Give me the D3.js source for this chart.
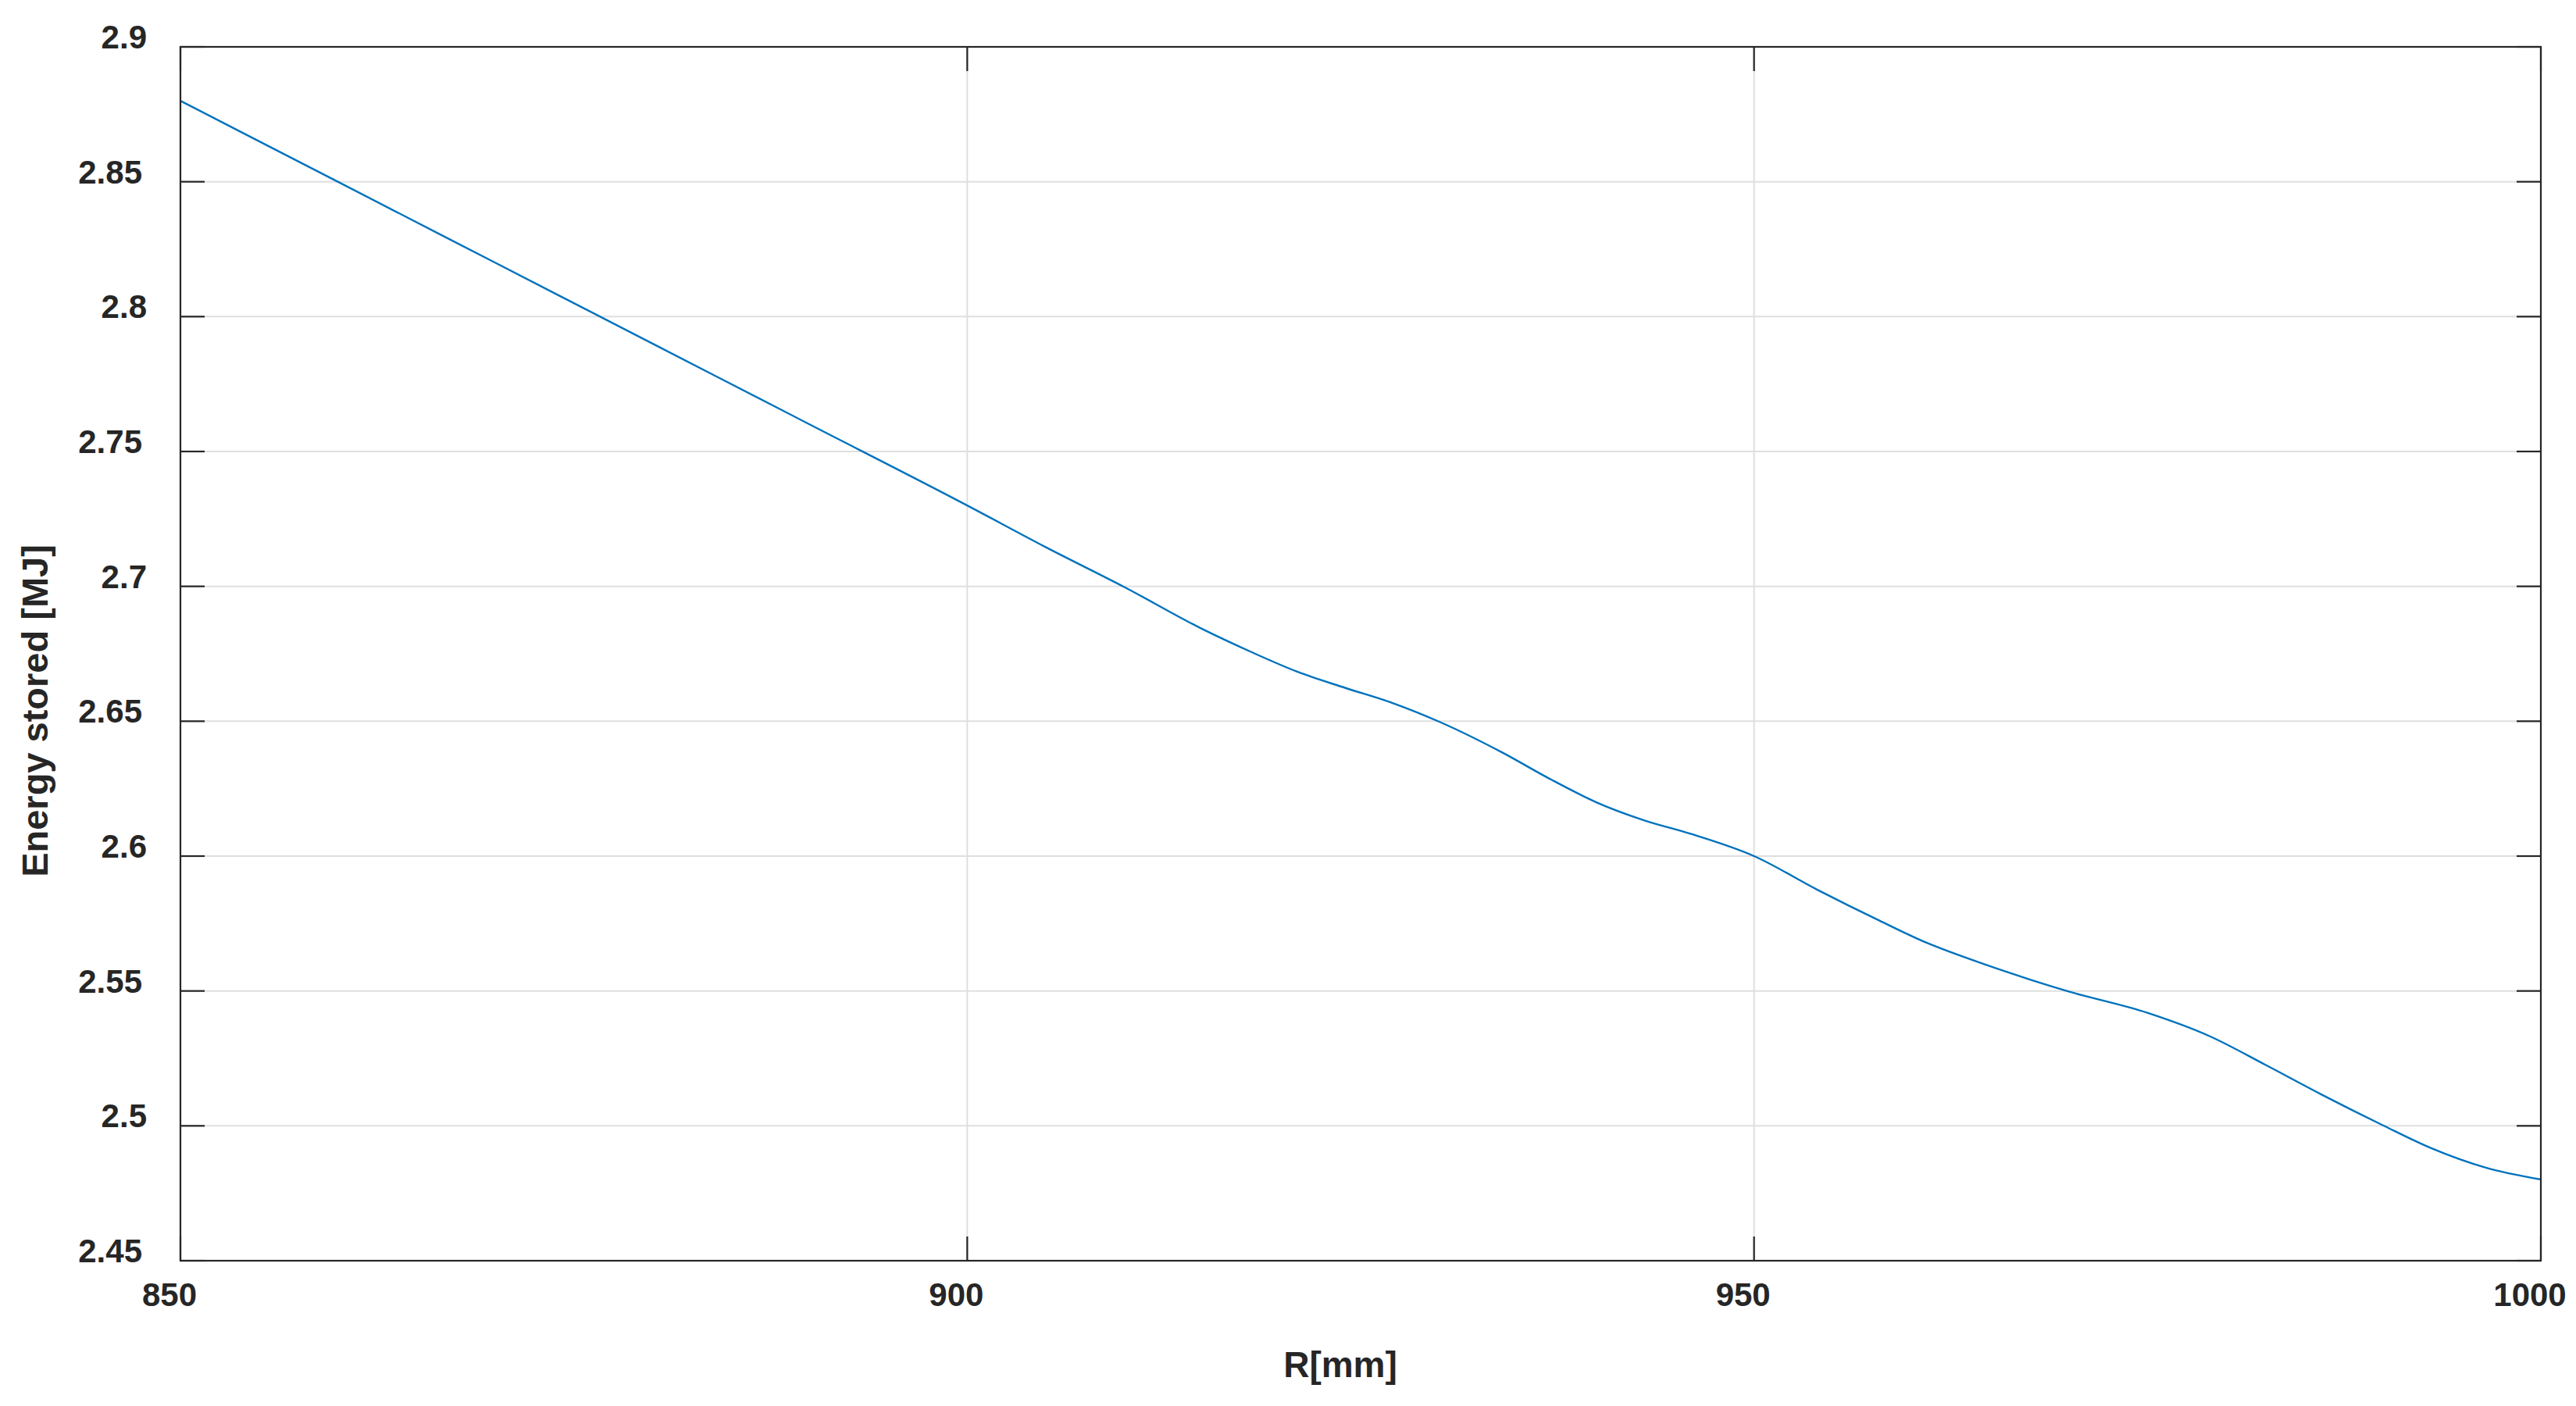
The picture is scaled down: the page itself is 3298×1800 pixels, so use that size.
<!DOCTYPE html>
<html>
<head>
<meta charset="utf-8">
<script src="https://cdn.jsdelivr.net/npm/d3@7"></script>
<style>
  html, body { margin: 0; padding: 0; background: #fff; }
  svg { display: block; }
  text { font-family: "Liberation Sans", Arial, Helvetica, sans-serif; font-weight: bold; fill: #262626; }
</style>
</head>
<body>
<svg id="chart" width="3298" height="1800"></svg>
<script>
// ---- data ----
const radius = [850, 860, 870, 880, 890, 900, 905, 910, 915, 918, 921, 924, 927, 930, 934, 937, 940, 943, 946, 950, 954, 958, 961, 964, 967.5, 970, 975, 979, 982.5, 986, 990, 993, 996.5, 1000];
const energy = [2.880, 2.850, 2.820, 2.790, 2.760, 2.730, 2.7145, 2.6997, 2.684, 2.6758, 2.6683, 2.6624, 2.6568, 2.6498, 2.6384, 2.6287, 2.6199, 2.6133, 2.6082, 2.6000, 2.5876, 2.5760, 2.5678, 2.5612, 2.5543, 2.5498, 2.5419, 2.5331, 2.5226, 2.5118, 2.5001, 2.4918, 2.4845, 2.4801];
const xTicks = [850, 900, 950, 1000];
const xTickLabels = ["850", "900", "950", "1000"];
const yTicks = [2.45, 2.5, 2.55, 2.6, 2.65, 2.7, 2.75, 2.8, 2.85, 2.9];
const yTickLabels = ["2.45", "2.5", "2.55", "2.6", "2.65", "2.7", "2.75", "2.8", "2.85", "2.9"];
const xLabel = "R[mm]";
const yLabel = "Energy stored [MJ]";

// ---- layout ----
const L = 231, R = 3253, T = 60, B = 1614;
const tickLen = 31;
const svg = d3.select("#chart");

const x = d3.scaleLinear().domain([850, 1000]).range([L, R]);
const y = d3.scaleLinear().domain([2.45, 2.9]).range([B, T]);

// grid
const grid = svg.append("g").attr("stroke", "#dfdfdf").attr("stroke-width", 2);
grid.selectAll("line.gx").data(xTicks.slice(1, -1)).join("line")
  .attr("x1", d => x(d)).attr("x2", d => x(d)).attr("y1", T).attr("y2", B);
grid.selectAll("line.gy").data(yTicks.slice(1, -1)).join("line")
  .attr("x1", L).attr("x2", R).attr("y1", d => y(d)).attr("y2", d => y(d));

// data line
const pts = radius.map((r, i) => [r, energy[i]]);
svg.append("path")
  .datum(pts)
  .attr("fill", "none")
  .attr("stroke", "#0072BD")
  .attr("stroke-width", 2.4)
  .attr("d", d3.line().x(d => x(d[0])).y(d => y(d[1])).curve(d3.curveMonotoneX));

// box + inner ticks
const ax = svg.append("g").attr("stroke", "#262626").attr("stroke-width", 2.2).attr("fill", "none");
ax.append("rect").attr("x", L).attr("y", T).attr("width", R - L).attr("height", B - T);
xTicks.forEach(v => {
  ax.append("line").attr("x1", x(v)).attr("x2", x(v)).attr("y1", B).attr("y2", B - tickLen);
  ax.append("line").attr("x1", x(v)).attr("x2", x(v)).attr("y1", T).attr("y2", T + tickLen);
});
yTicks.forEach(v => {
  ax.append("line").attr("x1", L).attr("x2", L + tickLen).attr("y1", y(v)).attr("y2", y(v));
  ax.append("line").attr("x1", R).attr("x2", R - tickLen).attr("y1", y(v)).attr("y2", y(v));
});

// tick labels
svg.append("g").selectAll("text").data(xTicks).join("text")
  .attr("x", d => x(d) - 14)
  .attr("y", 1672)
  .attr("text-anchor", "middle")
  .attr("font-size", 42)
  .text((d, i) => xTickLabels[i]);

svg.append("g").selectAll("text").data(yTicks).join("text")
  .attr("x", (d, i) => yTickLabels[i].length > 3 ? 182 : 188)
  .attr("y", d => y(d) - 13)
  .attr("dy", "0.36em")
  .attr("text-anchor", "end")
  .attr("font-size", 42)
  .text((d, i) => yTickLabels[i]);

// axis titles
svg.append("text")
  .attr("x", 1716).attr("y", 1763)
  .attr("text-anchor", "middle")
  .attr("font-size", 46)
  .text(xLabel);

svg.append("text")
  .attr("transform", "translate(61,910) rotate(-90)")
  .attr("text-anchor", "middle")
  .attr("font-size", 47)
  .text(yLabel);
</script>
</body>
</html>
